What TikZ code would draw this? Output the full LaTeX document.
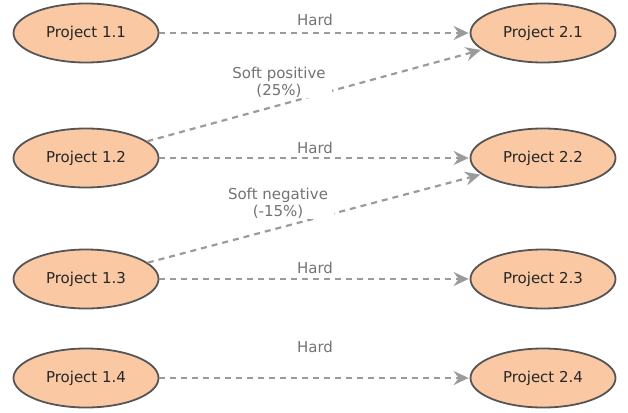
\documentclass[tikz,border=0pt]{standalone}
\usepackage{fontspec}
\setmainfont{DejaVu Sans}
\usetikzlibrary{shapes.geometric,arrows.meta}
\definecolor{peach}{RGB}{250,201,164}
\definecolor{rim}{RGB}{85,85,85}
\definecolor{wire}{RGB}{155,155,155}
\definecolor{lbl}{RGB}{115,115,115}
\tikzset{
  proj/.style={ellipse, draw=rim, line width=1.8pt, fill=peach, minimum width=145pt, minimum height=59pt, inner sep=0pt, font=\fontsize{15}{17}\selectfont, text=black!85},
  link/.style={draw=wire, line width=2.2pt, dash pattern=on 6pt off 5pt, -{Stealth[length=15pt,width=14pt,inset=5pt]}, shorten >=1pt},
  tag/.style={text=lbl, font=\fontsize{15}{17}\selectfont, align=center, inner sep=1pt},
  softtag/.style={tag, fill=white, inner xsep=6pt, inner ysep=1pt}
}
\begin{document}
\begin{tikzpicture}[x=1pt,y=-1pt]
\useasboundingbox (0,0) rectangle (628,412);
\node[proj] (a1) at (86,33) {Project 1.1};
\node[proj] (a2) at (86,158) {Project 1.2};
\node[proj] (a3) at (86,279) {Project 1.3};
\node[proj] (a4) at (86,378) {Project 1.4};
\node[proj] (b1) at (543,33) {Project 2.1};
\node[proj] (b2) at (543,158) {Project 2.2};
\node[proj] (b3) at (543,279) {Project 2.3};
\node[proj] (b4) at (543,378) {Project 2.4};
\draw[link] (a1) -- (b1);
\draw[link] (a2) -- (b2);
\draw[link] (a3) -- (b3);
\draw[link] (a4) -- (b4);
\draw[link] (a2) -- (b1);
\draw[link] (a3) -- (b2);
\node[tag] (h1) at (315,20) {Hard};
\node[tag] (h2) at (315,148) {Hard};
\node[tag] (h3) at (315,268) {Hard};
\node[tag] (h4) at (315,347) {Hard};
\node[softtag] (s1) at (279,82) {Soft positive\\(25\%)};
\node[softtag] (s2) at (278,203) {Soft negative\\(-15\%)};
\end{tikzpicture}
\end{document}
